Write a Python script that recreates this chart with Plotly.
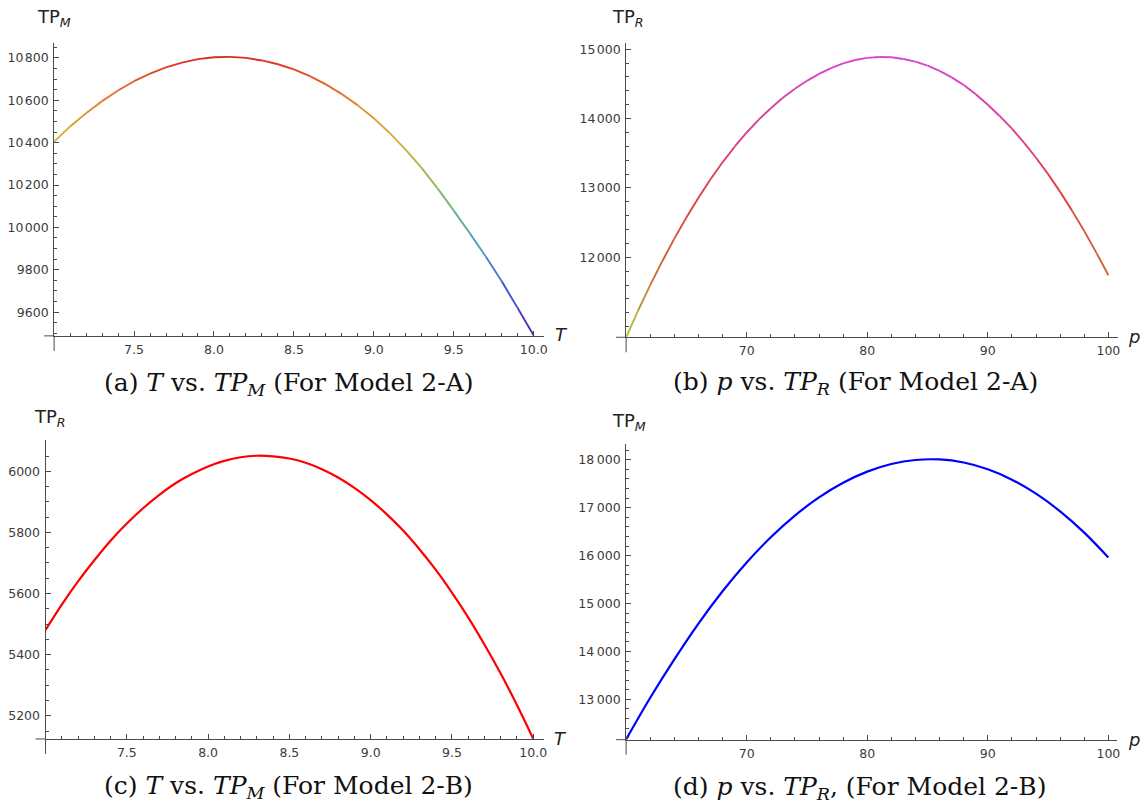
import plotly.graph_objects as go
from plotly.colors import sample_colorscale

W, H = 1148, 805

# ---------------- data ----------------
# (a) Model 2-A : T vs TP_M
T_a = [7.0, 7.1, 7.2, 7.3, 7.4, 7.5, 7.6, 7.7, 7.8, 7.9, 8.0, 8.1, 8.2, 8.3, 8.4, 8.5,
       8.6, 8.7, 8.8, 8.9, 9.0, 9.1, 9.2, 9.3, 9.4, 9.5, 9.6, 9.7, 9.8, 9.9, 10.0]
TPM_a = [10405, 10476, 10539, 10596, 10646, 10690, 10726, 10755, 10778, 10794, 10803,
         10805, 10800, 10788, 10770, 10746, 10714, 10675, 10629, 10576, 10515, 10445,
         10366, 10280, 10183, 10079, 9973, 9863, 9746, 9619, 9490]

# (b) Model 2-A : p vs TP_R
p_b = [60, 61, 62, 63, 64, 65, 66, 67, 68, 69, 70, 71, 72, 73, 74, 75, 76, 77, 78, 79, 80,
       81, 82, 83, 84, 85, 86, 87, 88, 89, 90, 91, 92, 93, 94, 95, 96, 97, 98, 99, 100]
TPR_b = [10848, 11235, 11600, 11945, 12270, 12575, 12860, 13125, 13370, 13595, 13800,
         13985, 14150, 14300, 14430, 14545, 14645, 14728, 14795, 14845, 14876,
         14888, 14884, 14860, 14822, 14763, 14689, 14595, 14484, 14350, 14200,
         14035, 13855, 13653, 13436, 13200, 12944, 12670, 12378, 12068, 11742]

# (c) Model 2-B : T vs TP_R
T_c = [7.0, 7.1, 7.2, 7.3, 7.4, 7.5, 7.6, 7.7, 7.8, 7.9, 8.0, 8.1, 8.2, 8.3, 8.4, 8.5,
       8.6, 8.7, 8.8, 8.9, 9.0, 9.1, 9.2, 9.3, 9.4, 9.5, 9.6, 9.7, 9.8, 9.9, 10.0]
TPR_c = [5481, 5564, 5640, 5709, 5773, 5829, 5879, 5923, 5961, 5991, 6016, 6034, 6046,
         6051, 6049, 6042, 6028, 6007, 5980, 5946, 5906, 5859, 5806, 5745, 5678, 5603,
         5522, 5433, 5338, 5235, 5125]

# (d) Model 2-B : p vs TP_M
p_d = [60, 62, 64, 66, 68, 70, 72, 74, 76, 78, 80, 82, 84, 86, 88, 90, 92, 94, 96, 98, 100]
TPM_d = [12166, 13035, 13836, 14583, 15256, 15856, 16383, 16835, 17214, 17520, 17752,
         17910, 17994, 18005, 17941, 17800, 17584, 17292, 16923, 16479, 15960]

# tick labels
xt_T = [7.5, 8.0, 8.5, 9.0, 9.5, 10.0]
xt_T_txt = ["7.5", "8.0", "8.5", "9.0", "9.5", "10.0"]
xt_p = [70, 80, 90, 100]
xt_p_txt = ["70", "80", "90", "100"]
yt_a = [9600, 9800, 10000, 10200, 10400, 10600, 10800]
yt_a_txt = ["9600", "9800", "10\u200a000", "10\u200a200", "10\u200a400", "10\u200a600", "10\u200a800"]
yt_b = [12000, 13000, 14000, 15000]
yt_b_txt = ["12\u200a000", "13\u200a000", "14\u200a000", "15\u200a000"]
yt_c = [5200, 5400, 5600, 5800, 6000]
yt_c_txt = ["5200", "5400", "5600", "5800", "6000"]
yt_d = [13000, 14000, 15000, 16000, 17000, 18000]
yt_d_txt = ["13\u2009000", "14\u2009000", "15\u2009000", "16\u2009000", "17\u2009000", "18\u2009000"]

captions = [
    "(a) <i>T</i> vs. <i>TP</i><sub><i>M</i></sub> (For Model 2-A)",
    "(b) <i>p</i> vs. <i>TP</i><sub><i>R</i></sub> (For Model 2-A)",
    "(c) <i>T</i> vs. <i>TP</i><sub><i>M</i></sub> (For Model 2-B)",
    "(d) <i>p</i> vs. <i>TP</i><sub><i>R</i></sub>, (For Model 2-B)",
]
ytitles = ["TP<sub><i>M</i></sub>", "TP<sub><i>R</i></sub>", "TP<sub><i>R</i></sub>", "TP<sub><i>M</i></sub>"]
xtitles = ["<i>T</i>", "<i>p</i>", "<i>T</i>", "<i>p</i>"]

# ---------------- layout geometry (pixels) ----------------
def px(x):
    return x / W


def py(y):
    return 1 - y / H


AX = "#4a4a4a"
TICKFONT = dict(family="DejaVu Sans", size=12.5, color="#3c3c3c")

panels = [
    dict(l=54.3, r=545.5, t=41.7, b=335.3, xr=[7.0, 10.062], yr=[9488, 10872],
         xt=(xt_T, xt_T_txt), yt=(yt_a, yt_a_txt), mx=(7.0, 0.1), my=(9400, 50),
         cap=(290, 383), yt_pos=(35, 17.5), xt_pos=(563, 334)),
    dict(l=628.3, r=1121.7, t=41.7, b=336.7, xr=[60, 100.78], yr=[10848, 15095],
         xt=(xt_p, xt_p_txt), yt=(yt_b, yt_b_txt), mx=(60, 2), my=(10000, 200),
         cap=(858, 382), yt_pos=(612, 17), xt_pos=(1138, 336)),
    dict(l=45.7, r=545.5, t=440, b=738.9, xr=[7.0, 10.064], yr=[5124, 6101],
         xt=(xt_T, xt_T_txt), yt=(yt_c, yt_c_txt), mx=(7.0, 0.1), my=(5000, 50),
         cap=(290, 787), yt_pos=(32, 418), xt_pos=(562, 738)),
    dict(l=628.3, r=1120.7, t=443.3, b=739.6, xr=[60, 100.7], yr=[12160, 18333],
         xt=(xt_p, xt_p_txt), yt=(yt_d, yt_d_txt), mx=(60, 2), my=(12000, 200),
         cap=(863, 788), yt_pos=(612, 422), xt_pos=(1138, 739)),
]

fig = go.Figure()

# colour schemes
scale_a = [[0.0, "#5a1e9e"], [0.12, "#3c46c8"], [0.3, "#4a9ad0"], [0.45, "#6cb488"],
           [0.6, "#a8b848"], [0.72, "#d8b038"], [0.85, "#e58030"], [1.0, "#dc2a24"]]
scale_b = [[0.0, "#a8d838"], [0.12, "#c09040"], [0.22, "#c87038"], [0.45, "#e04438"],
           [0.55, "#e04048"], [0.78, "#d8409a"], [1.0, "#d845d0"]]


def add_gradient(xs, ys, scale, width, xa, ya):
    vmin, vmax = min(ys), max(ys)
    for i in range(len(xs) - 1):
        m = ((ys[i] + ys[i + 1]) / 2 - vmin) / (vmax - vmin)
        c = sample_colorscale(scale, [min(max(m, 0.0), 1.0)])[0]
        fig.add_trace(go.Scatter(x=xs[i:i + 2], y=ys[i:i + 2], mode="lines",
                                 line=dict(color=c, width=width),
                                 xaxis=xa, yaxis=ya, showlegend=False, hoverinfo="skip"))


add_gradient(T_a, TPM_a, scale_a, 1.9, "x", "y")
add_gradient(p_b, TPR_b, scale_b, 1.9, "x2", "y2")
fig.add_trace(go.Scatter(x=T_c, y=TPR_c, mode="lines",
                         line=dict(color="#ff0000", width=2.2, shape="spline"),
                         xaxis="x3", yaxis="y3", showlegend=False))
fig.add_trace(go.Scatter(x=p_d, y=TPM_d, mode="lines",
                         line=dict(color="#0000ff", width=2.2, shape="spline"),
                         xaxis="x4", yaxis="y4", showlegend=False))

layout = dict(width=W, height=H, margin=dict(l=0, r=0, t=0, b=0),
              paper_bgcolor="white", plot_bgcolor="white", showlegend=False)
annotations = []
shapes = []
for k, P in enumerate(panels):
    n = "" if k == 0 else str(k + 1)
    xdom = [px(P["l"]), px(P["r"])]
    ydom = [py(P["b"]), py(P["t"])]
    layout["xaxis" + n] = dict(
        domain=xdom, range=P["xr"], anchor="y" + n, showgrid=False, zeroline=False,
        showline=True, linecolor=AX, linewidth=1, ticks="inside", ticklen=5, tickwidth=1,
        tickcolor=AX, tickmode="array", tickvals=P["xt"][0], ticktext=P["xt"][1],
        tickfont=TICKFONT, ticklabelstandoff=2,
        minor=dict(ticks="inside", ticklen=3, tickwidth=1, tickcolor=AX,
                   tickmode="linear", tick0=P["mx"][0], dtick=P["mx"][1], showgrid=False))
    layout["yaxis" + n] = dict(
        domain=ydom, range=P["yr"], anchor="x" + n, showgrid=False, zeroline=False,
        showline=True, linecolor=AX, linewidth=1, ticks="inside", ticklen=5, tickwidth=1,
        tickcolor=AX, tickmode="array", tickvals=P["yt"][0], ticktext=P["yt"][1],
        tickfont=TICKFONT, ticklabelstandoff=2,
        minor=dict(ticks="inside", ticklen=3, tickwidth=1, tickcolor=AX,
                   tickmode="linear", tick0=P["my"][0], dtick=P["my"][1], showgrid=False))
    # axis extensions beyond the origin (Mathematica style)
    shapes.append(dict(type="line", xref="paper", yref="paper",
                       x0=px(P["l"]), x1=px(P["l"]), y0=py(P["b"]), y1=py(P["b"] + 15),
                       line=dict(color=AX, width=1)))
    shapes.append(dict(type="line", xref="paper", yref="paper",
                       x0=px(P["l"] - 10), x1=px(P["l"]), y0=py(P["b"]), y1=py(P["b"]),
                       line=dict(color=AX, width=1)))
    annotations.append(dict(text=captions[k], xref="paper", yref="paper",
                            x=px(P["cap"][0]), y=py(P["cap"][1]), xanchor="center",
                            yanchor="middle", showarrow=False,
                            font=dict(family="DejaVu Serif", size=25, color="#111")))
    annotations.append(dict(text=ytitles[k], xref="paper", yref="paper",
                            x=px(P["yt_pos"][0]), y=py(P["yt_pos"][1]), xanchor="left",
                            yanchor="middle", showarrow=False,
                            font=dict(family="DejaVu Sans", size=18, color="#222")))
    annotations.append(dict(text=xtitles[k], xref="paper", yref="paper",
                            x=px(P["xt_pos"][0]), y=py(P["xt_pos"][1]), xanchor="center",
                            yanchor="middle", showarrow=False,
                            font=dict(family="DejaVu Sans", size=18, color="#222")))

layout["annotations"] = annotations
layout["shapes"] = shapes
fig.update_layout(**layout)
fig.write_html("out.html", config={"displayModeBar": False},
               post_script="document.body.style.margin='0px';document.body.style.overflow='hidden';")
